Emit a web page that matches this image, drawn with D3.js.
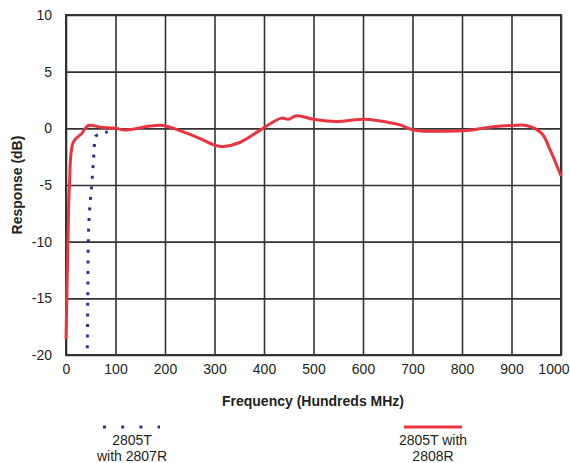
<!DOCTYPE html>
<html><head><meta charset="utf-8">
<script src="https://cdn.jsdelivr.net/npm/d3@7"></script>
<style>body{margin:0;background:#fff}svg{display:block}text{font-family:"Liberation Sans",Arial,Helvetica,sans-serif;fill:#231f20}</style>
</head><body><svg id="c" width="570" height="463"></svg>
<script>
const xTicks = [0,100,200,300,400,500,600,700,800,900,1000];
const yTicks = [10,5,0,-5,-10,-15,-20];
const seriesNames = ["2805T\nwith 2807R", "2805T with\n2808R"];
const blueFreq = [43, 44, 45, 48, 52, 56, 59, 80, 102];
const blueResp = [-19.4, -15, -10, -7, -5, -2.5, -0.75, -0.35, -0.05];
const redFreq = [0, 4, 7, 15, 32, 45, 70, 100, 119, 170, 197, 230, 271, 301, 318, 351, 398, 435, 449, 466, 500, 547, 601, 628, 675, 698, 722, 756, 809, 863, 903, 930, 961, 978, 1000];
const redResp = [-18.6, -10, -5, -1.2, -0.45, 0.25, 0.1, 0, -0.15, 0.2, 0.25, -0.2, -0.9, -1.5, -1.6, -1.25, 0, 0.9, 0.8, 1.1, 0.8, 0.6, 0.8, 0.7, 0.3, -0.1, -0.25, -0.25, -0.2, 0.15, 0.25, 0.25, -0.45, -1.9, -4.2];

const svg = d3.select("#c");
const L=66, R=561, T=15, B=355;
const x = d3.scaleLinear().domain([0,1000]).range([L,R]);
const y = d3.scaleLinear().domain([-20,10]).range([B,T]);
const grid = "#333";

// gridlines via axes
svg.append("g").attr("transform",`translate(0,${B})`)
  .call(d3.axisBottom(x).tickValues(xTicks).tickSize(-(B-T)).tickFormat(d=>d).tickPadding(6))
  .call(g=>{g.select(".domain").remove();
    g.selectAll("line").attr("stroke",grid).attr("stroke-width",1.6);
    g.selectAll("text").attr("font-size",14).attr("fill","#231f20").attr("dy","0.9em").style("font-family",'"Liberation Sans",Arial,sans-serif');
    g.selectAll(".tick").filter(d=>d===1000).select("text").attr("text-anchor","end").attr("x",569-R);});
svg.append("g").attr("transform",`translate(${L},0)`)
  .call(d3.axisLeft(y).tickValues(yTicks).tickSize(-(R-L)).tickFormat(d=>d).tickPadding(14))
  .call(g=>{g.select(".domain").remove();
    g.selectAll("line").attr("stroke",grid).attr("stroke-width",1.6);
    g.selectAll("text").attr("font-size",14).attr("fill","#231f20").style("font-family",'"Liberation Sans",Arial,sans-serif');});
svg.append("rect").attr("x",L).attr("y",T).attr("width",R-L).attr("height",B-T)
  .attr("fill","none").attr("stroke",grid).attr("stroke-width",2);

const blue = blueFreq.map((f,i)=>[f,blueResp[i]]);
const red = redFreq.map((f,i)=>[f,redResp[i]]);

svg.append("path").attr("d",d3.line().x(d=>x(d[0])).y(d=>y(d[1])).curve(d3.curveMonotoneY)(blue))
  .attr("fill","none").attr("stroke","#2e3192").attr("stroke-width",3).attr("stroke-dasharray","3,7.6");
svg.append("path").attr("d",d3.line().x(d=>x(d[0])).y(d=>y(d[1])).curve(d3.curveCatmullRom.alpha(0.5))(red))
  .attr("fill","none").attr("stroke","#e8353f").attr("stroke-width",3).attr("stroke-linejoin","round");

// axis titles
svg.append("text").attr("x",313).attr("y",406).attr("text-anchor","middle")
  .attr("font-size",14).attr("font-weight","bold").text("Frequency (Hundreds MHz)");
svg.append("text").attr("transform","translate(22,185) rotate(-90)").attr("text-anchor","middle")
  .attr("font-size",14).attr("font-weight","bold").text("Response (dB)");

// legend
const lg = svg.append("g");
lg.append("line").attr("x1",103).attr("x2",160).attr("y1",427).attr("y2",427)
  .attr("stroke","#2e3192").attr("stroke-width",3).attr("stroke-dasharray","3,15.2");
lg.append("line").attr("x1",404).attr("x2",462).attr("y1",427).attr("y2",427)
  .attr("stroke","#e8353f").attr("stroke-width",3);
[[132,seriesNames[0]],[433,seriesNames[1]]].forEach(([cx,name])=>{
  name.split("\n").forEach((s,i)=>{
    lg.append("text").attr("x",cx).attr("y",445+i*16).attr("text-anchor","middle").attr("font-size",14).text(s);
  });
});
</script></body></html>
